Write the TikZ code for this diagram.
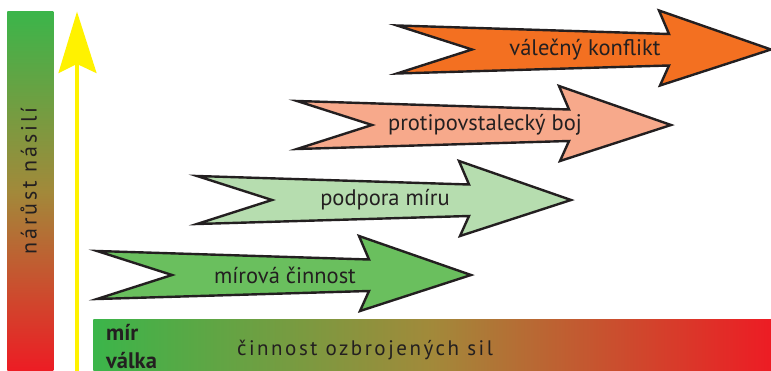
\documentclass[tikz,border=0pt]{standalone}
\usepackage{fontspec}
\setmainfont{PT Sans}
\newfontfamily\spacedfont[LetterSpace=12]{PT Sans}
\newfontfamily\vspacedfont[LetterSpace=13]{PT Sans}
\definecolor{ink}{HTML}{231F20}
\definecolor{gA}{HTML}{6ABF5E}
\definecolor{gB}{HTML}{B6DDAF}
\definecolor{sC}{HTML}{F7A98B}
\definecolor{oD}{HTML}{F37021}
\definecolor{barG}{HTML}{3BB54A}
\definecolor{barM}{HTML}{A2893A}
\definecolor{barR}{HTML}{ED1C24}
\definecolor{yel}{HTML}{FFF200}
\tikzset{
  arrowshape/.style={draw=ink, line width=2.4pt, miter limit=20},
  arrowtext/.style={text=ink, font=\fontsize{22.5}{26}\selectfont, inner sep=0pt},
  barbox/.style={draw=none, inner sep=0pt, outer sep=0pt},
  boldlabel/.style={anchor=base west, inner sep=0pt, text=ink, font=\bfseries\fontsize{22.5}{24}\selectfont},
}
\newcommand\bigarrow[5]{%
  \begin{scope}[shift={(#2,#3)}]
    \fill[#4, arrowshape] (0,-24) -- (272,-15.5) -- (262,-39) -- (374,0) -- (263,36) -- (272,16) -- (0,24) -- (75,0) -- cycle;
    \node[arrowtext] (#1) at (188,0) {#5};
  \end{scope}}
\begin{document}
\begin{tikzpicture}[x=1pt,y=-1pt]
\useasboundingbox (0,0) rectangle (771,371);
% left vertical gradient bar
\node[barbox, minimum width=46pt, minimum height=359.3pt, top color=barG, bottom color=barR, middle color=barM] (vbar) at (30.3,191.35) {};
\node[rotate=90, anchor=base, text=ink, inner sep=0pt, font=\vspacedfont\fontsize{22}{24}\selectfont] (vtext) at (36.7,181) {nárůst násilí};
% yellow arrow
\coordinate (ybot) at (77,371);
\coordinate (yjoin) at (77,64);
\coordinate (ytip) at (77,11.7);
\draw[yel, line width=4pt] (ybot) -- (yjoin);
\fill[yel] (ytip) -- (96.7,73.3) -- (yjoin) -- (58.3,73.3) -- cycle;
% bottom horizontal gradient bar
\node[barbox, minimum width=677.7pt, minimum height=51.7pt, left color=barG, right color=barR, middle color=barM] (hbar) at (432.15,345.15) {};
\node[boldlabel] (mir) at (106,340) {mír};
\node[boldlabel] (valka) at (106,368) {válka};
\node[anchor=base, inner sep=0pt, text=ink, font=\spacedfont\fontsize{21}{24}\selectfont] (htext) at (365,355) {činnost ozbrojených sil};
% arrows
\bigarrow{a1}{97}{275}{gA}{mírová činnost}
\bigarrow{a2}{197}{200}{gB}{podpora míru}
\bigarrow{a3}{297}{125}{sC}{protipovstalecký boj}
\bigarrow{a4}{397}{49.5}{oD}{válečný konflikt}
\end{tikzpicture}
\end{document}
